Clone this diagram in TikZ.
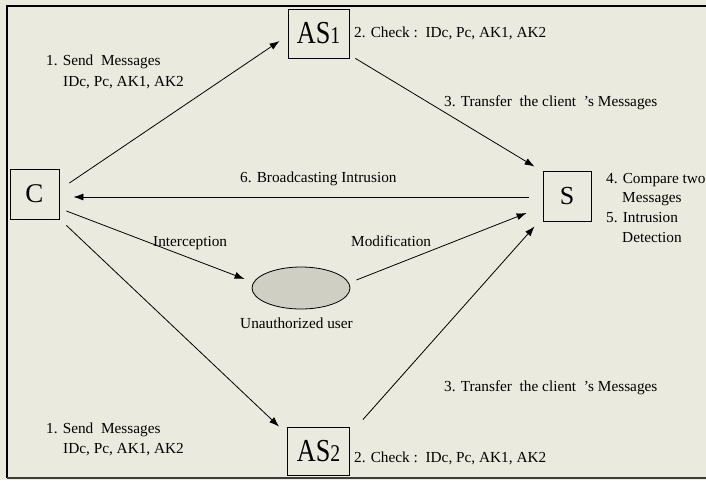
\documentclass[tikz,border=0pt]{standalone}
\usepackage{fontspec}
\setmainfont{Liberation Serif}
\usepackage{graphicx}
\usetikzlibrary{arrows.meta,shapes.geometric}
\definecolor{paper}{HTML}{EBEADF}
\definecolor{userfill}{HTML}{CFCFC4}
\definecolor{frameline}{HTML}{3C3C3C}
% large entity name: letters plus a smaller digit, set slightly narrow
\newcommand\entname[2]{\scalebox{0.82}[1]{\fontsize{32}{32}\selectfont #1\fontsize{24}{24}\selectfont #2}}
\begin{document}
\begin{tikzpicture}[x=1pt,y=-1pt,
  entity/.style={draw=black, line width=0.8pt, inner sep=0pt, fill=paper},
  lbl/.style={anchor=base west, inner sep=0pt, font=\fontsize{15.3}{18}\selectfont},
  msg/.style={-{Latex[length=10pt,width=7pt]}, line width=0.8pt}]

% page and frame
\useasboundingbox (0,0) rectangle (706,480);
\fill[paper] (0,0) rectangle (706,480);
\draw[line width=1.1pt] (712,6) -- (7,6) -- (7,478);
\draw[line width=2pt, frameline] (7,478) -- (712,478);

% entities
\node[entity, minimum width=61pt, minimum height=49pt] (AS1) at (318.5,33.5) {\entname{AS}{1}};
\node[entity, minimum width=62pt, minimum height=48pt] (AS2) at (318.5,451) {\entname{AS}{2}};
\node[entity, minimum width=49pt, minimum height=50pt, font=\fontsize{27}{27}\selectfont] (C) at (34.5,194) {C};
\node[entity, minimum width=48pt, minimum height=50pt, font=\fontsize{26}{26}\selectfont] (S) at (567,196) {S};
\node[ellipse, draw=black, line width=0.8pt, fill=userfill, minimum width=98pt, minimum height=42pt, inner sep=0pt] (U) at (301,288) {};

% messages
\draw[msg] ([shift={(10,-11)}]C.east) -- ([shift={(-8,7.5)}]AS1.west);
\draw[msg] ([shift={(6,0)}]AS1.south east) -- ([shift={(-8,-4)}]S.north west);
\draw[msg] ([shift={(-14,1)}]S.west) -- ([shift={(14,3)}]C.east);
\draw[msg] ([shift={(7,17)}]C.east) -- ([shift={(-7,-9)}]U.west);
\draw[msg] ([shift={(6,-8)}]U.east) -- ([shift={(-16,17)}]S.west);
\draw[msg] ([shift={(7,6)}]C.south east) -- ([shift={(-8,0)}]AS2.north west);
\draw[msg] ([shift={(13,-7)}]AS2.north east) -- ([shift={(-8,5)}]S.south west);

% labels
\node[lbl] (send1) at (46,65) {1. Send\ \ Messages};
\node[lbl] (keys1) at (63,86) {IDc, Pc, AK1, AK2};
\node[lbl] (check1) at (354,37) {2. Check :\ \ IDc, Pc, AK1, AK2};
\node[lbl] (fwd1) at (444,106) {3. Transfer\ \ the client\ \ ’s Messages};
\node[lbl] (bcast) at (240,182) {6. Broadcasting Intrusion};
\node[lbl] (cmpA) at (606,183) {4. Compare two};
\node[lbl] (cmpB) at (622,202.5) {Messages};
\node[lbl] (detA) at (606,222) {5. Intrusion};
\node[lbl] (detB) at (622,242) {Detection};
\node[lbl] (intc) at (153,246) {Interception};
\node[lbl] (modf) at (351,246) {Modification};
\node[lbl] (ulbl) at (240,328) {Unauthorized user};
\node[lbl] (fwd2) at (444,391) {3. Transfer\ \ the client\ \ ’s Messages};
\node[lbl] (send2) at (46,433) {1. Send\ \ Messages};
\node[lbl] (keys2) at (63,453) {IDc, Pc, AK1, AK2};
\node[lbl] (check2) at (354,462) {2. Check :\ \ IDc, Pc, AK1, AK2};
\end{tikzpicture}
\end{document}
